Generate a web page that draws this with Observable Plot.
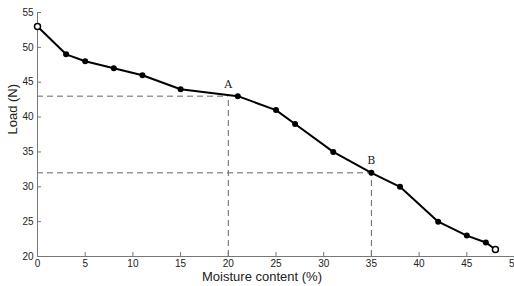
<!DOCTYPE html>
<html><head><meta charset="utf-8">
<script src="https://cdn.jsdelivr.net/npm/d3@7"></script>
<script src="https://cdn.jsdelivr.net/npm/@observablehq/plot@0.6"></script>
<style>body{margin:0;background:#fff}</style>
</head><body><div id="chart"></div>
<script>
const moisture = [0, 3, 5, 8, 11, 15, 21, 25, 27, 31, 35, 38, 42, 45, 47, 48];
const load = [53, 49, 48, 47, 46, 44, 43, 41, 39, 35, 32, 30, 25, 23, 22, 21];
const xTicks = [0, 5, 10, 15, 20, 25, 30, 35, 40, 45, 50];
const yTicks = [20, 25, 30, 35, 40, 45, 50, 55];
const refPoints = [{name: "A", x: 20, y: 43}, {name: "B", x: 35, y: 32}];
const xLabel = "Moisture content (%)";
const yLabel = "Load (N)";

const data = moisture.map((m, i) => ({m, l: load[i]}));
const openPts = [data[0], data[data.length - 1]];
const filledPts = data.slice(1, -1);
const hSeg = refPoints.map(p => ({x1: 0, x2: p.x, y: p.y}));
const vSeg = refPoints.map(p => ({x: p.x, y1: 20, y2: p.y}));

const chart = Plot.plot({
  width: 514, height: 286,
  marginLeft: 37, marginRight: 0, marginTop: 12, marginBottom: 30,
  style: {fontFamily: "'Liberation Sans', Arial, sans-serif", fontSize: "10px", color: "#222"},
  x: {domain: [0, 50]},
  y: {domain: [20, 55]},
  marks: [
    Plot.ruleY(hSeg, {x1: "x1", x2: "x2", y: "y", stroke: "#666", strokeDasharray: "6,4", strokeWidth: 1}),
    Plot.ruleX(vSeg, {x: "x", y1: "y1", y2: "y2", stroke: "#666", strokeDasharray: "6,4", strokeWidth: 1}),
    Plot.axisX({ticks: xTicks, tickSize: -4, tickPadding: 7, tickFormat: d => d, label: null, fontSize: 10, stroke: "#777"}),
    Plot.axisY({ticks: yTicks, tickSize: -4, tickPadding: 8, tickFormat: d => d, label: null, stroke: "#777"}),
    Plot.ruleX([0], {stroke: "#777"}),
    Plot.ruleY([20], {stroke: "#777"}),
    Plot.text([xLabel], {text: d => d, frameAnchor: "bottom", dx: -14, dy: 20, lineAnchor: "middle", fontSize: 13, fill: "#222"}),
    Plot.text([yLabel], {text: d => d, frameAnchor: "left", dx: -25, rotate: -90, fontSize: 13, fill: "#222"}),
    Plot.line(data, {x: "m", y: "l", stroke: "black", strokeWidth: 2}),
    Plot.dot(filledPts, {x: "m", y: "l", r: 3, fill: "black"}),
    Plot.dot(openPts, {x: "m", y: "l", r: 3, fill: "white", stroke: "black", strokeWidth: 1.5}),
    Plot.text(refPoints, {x: "x", y: "y", text: "name", dx: 0, dy: -12, fontFamily: "'DejaVu Serif', 'Liberation Serif', serif", fontSize: 11})
  ]
});
document.getElementById("chart").appendChild(chart);
</script></body></html>
